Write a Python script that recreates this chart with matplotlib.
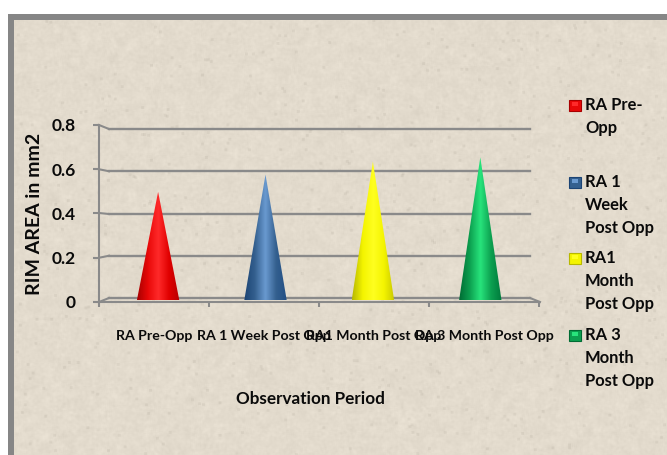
import numpy as np
import matplotlib
matplotlib.use("Agg")
import matplotlib.pyplot as plt
from matplotlib.colors import LinearSegmentedColormap
from matplotlib.lines import Line2D
from matplotlib.patches import PathPatch, Rectangle
from matplotlib.path import Path

categories = ["RA Pre-Opp", "RA 1 Week Post Opp", "RA1 Month Post Opp", "RA 3 Month Post Opp"]
values = [0.5, 0.58, 0.64, 0.66]
y_ticks = [0, 0.2, 0.4, 0.6, 0.8]
y_tick_labels = ["0", "0.2", "0.4", "0.6", "0.8"]
legend_labels = ["RA Pre-\nOpp", "RA 1\nWeek\nPost Opp", "RA1\nMonth\nPost Opp", "RA 3\nMonth\nPost Opp"]

W, H = 667, 455
GRAY = "#8a8a8a"
INK = "#0a0a0a"
plt.rcParams["font.family"] = ["Lato", "DejaVu Sans"]
plt.rcParams["font.weight"] = "bold"
plt.rcParams["axes.labelweight"] = "bold"

# dark, bright, edge colours across each cone
cone_colors = [
    ["#a80000", "#e80808", "#ff2a2a", "#e00000", "#b80000"],
    ["#1c4474", "#34608f", "#6a9ad0", "#34608f", "#234f84"],
    ["#b8b800", "#f4f400", "#ffff20", "#f4f400", "#c8c800"],
    ["#006c34", "#0ca050", "#28e47c", "#0ca050", "#007a3c"],
]
legend_y = [105, 182, 258, 335]


def px_axes(x0, x1, y_bottom, y_top):
    # axes placed by pixel box, y counted from the top of the image
    return fig.add_axes([x0 / W, 1 - y_bottom / H, (x1 - x0) / W, (y_bottom - y_top) / H])


def px_line(xs, ys, **kwargs):
    fig.add_artist(Line2D([x / W for x in xs], [1 - y / H for y in ys], transform=fig.transFigure, **kwargs))


def smooth(a, n):
    kernel = np.ones(n) / n
    for axis in (0, 1):
        a = np.apply_along_axis(lambda r: np.convolve(r, kernel, mode="same"), axis, a)
    return a


fig = plt.figure(figsize=(W / 100, H / 100), dpi=100, facecolor="white")

# paper backdrop: speckle is decoration only, no chart value comes from it
bg = fig.add_axes([0, 0, 1, 1])
bg.axis("off")
rng = np.random.default_rng(4)
fine = smooth(rng.normal(0, 1, (H, W)), 3)
blotch = smooth(rng.normal(0, 1, (H, W)), 9)
specks = smooth((rng.random((H, W)) > 0.998).astype(float), 3)
noise = fine * 5 + blotch * 13 - specks * 90
paper = np.clip(np.array([227, 219, 205])[None, None, :] + noise[:, :, None], 0, 255) / 255
bg.imshow(paper, extent=(14, W, H, 19), aspect="auto", zorder=1, interpolation="bilinear")
bg.set_xlim(0, W)
bg.set_ylim(H, 0)
bg.add_patch(Rectangle((8, 14), W - 8, 5.5, color="#868686", lw=0, zorder=2))
bg.add_patch(Rectangle((8, 14), 6, H - 14, color="#868686", lw=0, zorder=2))

# back wall with gridlines
back = px_axes(109, 530, 298, 129)
back.set_xlim(0, 4)
back.set_ylim(0, 0.8)
back.patch.set_alpha(0)
back.axis("off")
for t in y_ticks:
    back.axhline(t, color=GRAY, lw=1.7, clip_on=False)

# front axis with ticks and labels
front = px_axes(99, 539, 302, 125)
front.set_xlim(0, 4)
front.set_ylim(0, 0.8)
front.patch.set_alpha(0)
for side in ("top", "right"):
    front.spines[side].set_visible(False)
for side in ("left", "bottom"):
    front.spines[side].set_color(GRAY)
    front.spines[side].set_linewidth(1.5)
front.set_yticks(y_ticks, y_tick_labels, fontsize=12.5, color=INK)
front.tick_params(axis="y", color=GRAY, width=1.5, length=4, pad=13)
front.set_xticks(range(5), [""] * 5)
front.tick_params(axis="x", which="major", color=GRAY, width=1.5, length=3.5)
front.set_xticks(np.arange(4) + 0.5, categories, minor=True, fontsize=10.2, color=INK)
front.tick_params(axis="x", which="minor", length=0, pad=20)
front.set_ylabel("RIM AREA in mm2", fontsize=14, color=INK, va="center")
front.yaxis.set_label_coords((35 - 99) / 440, 0.5)
front.set_xlabel("Observation Period", fontsize=12.3, color=INK, va="center")
front.xaxis.set_label_coords((310 - 99) / 440, -(399 - 302) / 177)

# floor and the links from front ticks back to the wall
y_front = front.transData.transform([(0, t) for t in y_ticks])[:, 1]
y_back = back.transData.transform([(0, t) for t in y_ticks])[:, 1]
for yf, yb in zip(y_front, y_back):
    px_line([99, 109], [H - yf, H - yb], color=GRAY, lw=1.5)
px_line([530, 540], [298, 302], color=GRAY, lw=1.5)

# cones sit in a plane between the wall and the front axis
plane = px_axes(104.4, 534, 300, 127)
plane.set_xlim(0, 4)
plane.set_ylim(0, 0.8)
plane.patch.set_alpha(0)
plane.axis("off")
half = 0.197
for i, (v, colors) in enumerate(zip(values, cone_colors)):
    c = i + 0.5
    cmap = LinearSegmentedColormap.from_list("cone", colors)
    verts = [(c, v), (c + half, 0), (c + half * 0.5, -0.006), (c - half * 0.5, -0.006), (c - half, 0), (c, v)]
    codes = [Path.MOVETO, Path.LINETO, Path.LINETO, Path.LINETO, Path.LINETO, Path.CLOSEPOLY]
    clip = PathPatch(Path(verts, codes), transform=plane.transData, facecolor="none", edgecolor="none")
    plane.add_patch(clip)
    im = plane.imshow(np.linspace(0, 1, 64)[None, :], cmap=cmap, aspect="auto",
                      extent=(c - half, c + half, -0.01, v), zorder=3)
    im.set_clip_path(clip)
plane.set_xlim(0, 4)
plane.set_ylim(0, 0.8)

# legend
for y, label, colors in zip(legend_y, legend_labels, cone_colors):
    bg.add_patch(Rectangle((569, y - 5.5), 11.5, 11.5, facecolor=colors[1], edgecolor=colors[0], lw=0.8, zorder=3))
    bg.add_patch(Rectangle((572, y - 3), 5.5, 4, facecolor=colors[2], lw=0, zorder=4))
    for k, line in enumerate(label.split("\n")):
        bg.text(585, y + k * 23, line, fontsize=11.9, va="center", ha="left", color=INK, zorder=4)

fig.savefig("out.png", dpi=100)
